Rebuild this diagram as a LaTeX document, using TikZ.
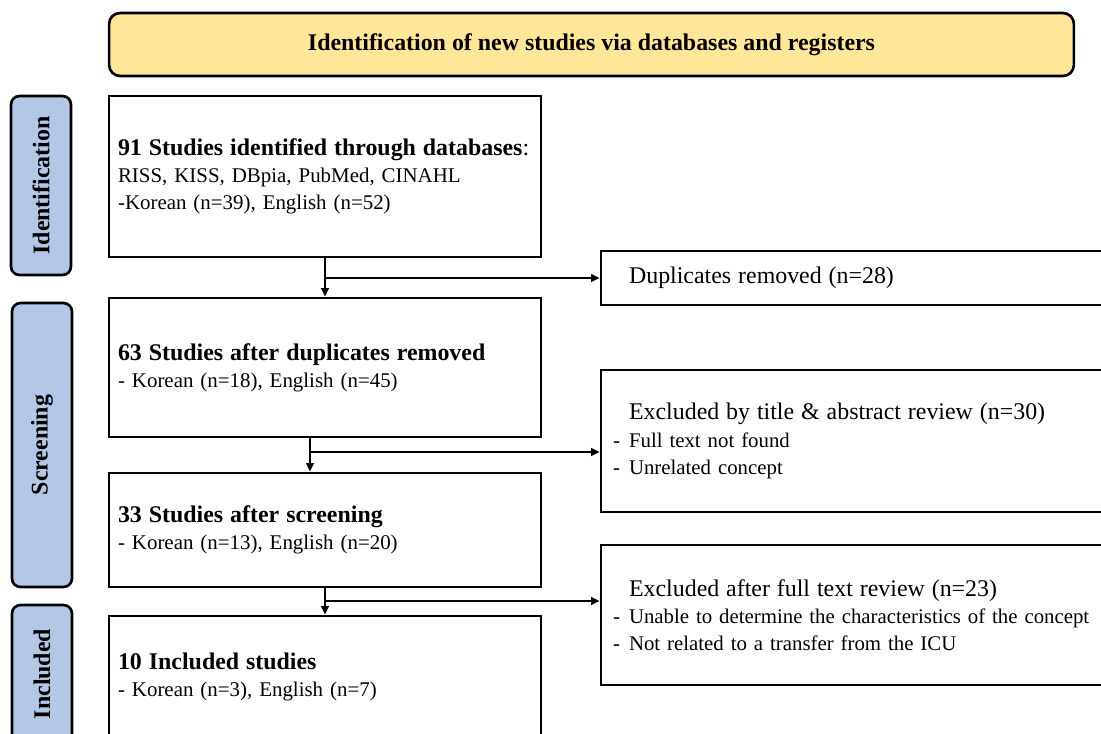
\documentclass[tikz,border=0pt]{standalone}
\usepackage{fontspec}
\setmainfont{Liberation Serif}
\usetikzlibrary{calc, shapes, arrows.meta}
\usepackage{xcolor}
\definecolor{bannerfill}{HTML}{FFE699}
\definecolor{stagefill}{HTML}{B4C7E7}

\begin{document}
\begin{tikzpicture}[x=0.02cm, y=-0.02cm,
	flowbox/.style={draw, line width=1.5pt, minimum width=8.64cm, text width=8.28cm, align=left, inner xsep=0.18cm, inner ysep=0pt, font=\fontsize{11.9}{15.5}\selectfont},
	exclbox/.style={draw, line width=1.5pt, minimum width=10.4cm, text width=9.92cm, align=left, inner xsep=0.24cm, inner ysep=0pt, font=\fontsize{11.85}{15.5}\selectfont},
	stagebox/.style={draw, line width=1.5pt, fill=stagefill, rounded corners=0.17cm, rotate=90, minimum height=1.2cm, inner sep=0pt, font=\bfseries\fontsize{13.6}{16}\selectfont},
	flowarrow/.style={-{Triangle[length=0.17cm, width=0.15cm]}, line width=1.3pt}]
				\newcommand{\myfonthead}[1]{%
					{\fontsize{13.6}{15.5}\selectfont #1}%
				}\newcommand{\myitem}[1]{%
					\makebox[0.32cm][l]{-}#1%
				}%Page frame
				\useasboundingbox (0,0) rectangle (1101,733);
				%Banner on top
				\node [draw, line width=1.5pt, fill=bannerfill, rounded corners=0.22cm, minimum width=19.3cm, minimum height=1.26cm, inner sep=0pt, font=\bfseries\fontsize{13.6}{16}\selectfont] (banner) at (591.5,44.5) {Identification of new studies via databases and registers};
				%Stages on the left
				\node [stagebox, minimum width=3.58cm] (ident) at (41,185.5) {Identification};
				\node [stagebox, minimum width=5.68cm] (screen) at (42,445) {Screening};
				\node [stagebox, minimum width=2.76cm] (incl) at (42,674) {Included};
				%Main column
				\node [flowbox, minimum height=3.22cm] (box1) at (325,176.5) {\myfonthead{\textbf{91 Studies identified through databases}:}\\RISS, KISS, DBpia, PubMed, CINAHL\\-Korean (n=39), English (n=52)};
				\node [flowbox, minimum height=2.78cm] (box2) at (325,367.5) {\myfonthead{\textbf{63 Studies after duplicates removed}}\\- Korean (n=18), English (n=45)};
				\node [flowbox, minimum height=2.28cm] (box3) at (325,530) {\myfonthead{\textbf{33 Studies after screening}}\\- Korean (n=13), English (n=20)};
				\node [flowbox, minimum height=2.44cm] (box4) at (325,677) {\myfonthead{\textbf{10 Included studies}}\\- Korean (n=3), English (n=7)};
				%Excluded column
				\node [exclbox, minimum height=1.08cm] (dup) at (861,278) {\hspace*{0.32cm}\myfonthead{Duplicates removed (n=28)}};
				\node [exclbox, minimum height=2.84cm] (excl1) at (861,441) {\hspace*{0.32cm}\myfonthead{Excluded by title \& abstract review (n=30)}\\\myitem{Full text not found}\\\myitem{Unrelated concept}};
				\node [exclbox, minimum height=2.8cm] (excl2) at (861,615) {\hspace*{0.32cm}\myfonthead{Excluded after full text review (n=23)}\\\myitem{Unable to determine the characteristics of the concept}\\\myitem{Not related to a transfer from the ICU}};
				%Arrows
				\draw [flowarrow] (box1.south) -- (box2.north);
				\draw [flowarrow] (box1.south |- dup.west) -- (dup.west);
				\coordinate (split2) at (310,452);
				\draw [flowarrow] (split2 |- box2.south) -- (split2 |- box3.north);
				\draw [flowarrow] (split2) -- (split2 -| excl1.west);
				\coordinate (split3) at (325,601);
				\draw [flowarrow] (box3.south) -- (box4.north);
				\draw [flowarrow] (split3) -- (split3 -| excl2.west);
\end{tikzpicture}
\end{document}
